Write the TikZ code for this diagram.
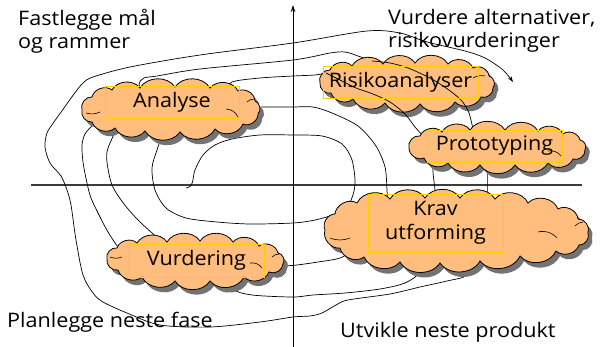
\documentclass[tikz,border=0pt]{standalone}
\usepackage{fontspec}
\setmainfont{Open Sans}[FakeStretch=1.08]
\usetikzlibrary{arrows.meta}
\definecolor{cloudfill}{RGB}{255,190,125}
\definecolor{boxyellow}{RGB}{255,204,0}
\definecolor{axisgray}{RGB}{60,60,60}
\definecolor{shadowgray}{RGB}{115,115,115}
\def\cloudAnalyse{(82,110) to[bump] (92,97) to[bump] (112,90) to[bump] (140,88) to[bump] (175,87) to[bump] (210,88) to[bump] (238,91) to[bump] (255,101) to[bump] (258,114) to[bump] (243,124) to[bump] (215,129) to[bump] (180,132) to[bump] (145,131) to[bump] (115,128) to[bump] (92,122) to[bump] (82,110) -- cycle}
\def\cloudRisiko{(320,83) to[bump] (330,70) to[bump] (352,66) to[bump] (383,64) to[bump] (415,63) to[bump] (448,64) to[bump] (473,68) to[bump] (489,76) to[bump] (493,88) to[bump] (481,97) to[bump] (455,102) to[bump] (420,104) to[bump] (385,103) to[bump] (353,99) to[bump] (331,93) to[bump] (320,83) -- cycle}
\def\cloudProto{(409,148) to[bump] (420,136) to[bump] (442,132) to[bump] (470,130) to[bump] (505,130) to[bump] (538,131) to[bump] (563,134) to[bump] (580,140) to[bump] (585,150) to[bump] (573,159) to[bump] (548,163) to[bump] (515,165) to[bump] (480,165) to[bump] (448,163) to[bump] (424,158) to[bump] (409,148) -- cycle}
\def\cloudKrav{(325,230) to[bump] (335,214) to[bump] (357,203) to[bump] (390,199) to[bump] (425,198) to[bump] (460,198) to[bump] (495,199) to[bump] (528,203) to[bump] (558,209) to[bump] (578,219) to[bump] (588,233) to[bump] (579,245) to[bump] (556,251) to[bump] (520,256) to[bump] (480,261) to[bump] (440,263) to[bump] (400,262) to[bump] (364,257) to[bump] (340,248) to[bump] (325,230) -- cycle}
\def\cloudVurd{(107,259) to[bump] (117,248) to[bump] (137,243) to[bump] (167,242) to[bump] (200,241) to[bump] (233,242) to[bump] (259,246) to[bump] (278,253) to[bump] (283,264) to[bump] (269,272) to[bump] (244,277) to[bump] (210,281) to[bump] (175,281) to[bump] (142,277) to[bump] (118,270) to[bump] (107,259) -- cycle}
\begin{document}
\begin{tikzpicture}[x=1pt,y=-1pt,
  bump/.style={bend left=58},
  spiral/.style={line width=0.7pt, black},
  cloudline/.style={draw=black, line width=0.8pt, fill=cloudfill},
  cloudshadow/.style={fill=shadowgray, shift={(4,5)}},
  puffline/.style={line width=0.6pt, black},
  labelbox/.style={draw=boxyellow, line width=0.7pt, inner sep=0pt, align=center,
    font=\fontsize{20}{24}\selectfont},
  plaintext/.style={anchor=base west, inner sep=0pt, font=\fontsize{20}{24}\selectfont}]
\useasboundingbox (0,0) rectangle (610,347);
\fill[white] (0,0) rectangle (610,347);

% axes
\draw[line width=1.3pt, axisgray] (31,185) -- (582,185);
\draw[line width=0.9pt, -{Stealth[length=7pt,width=4.5pt]}] (293,347) -- (293,5);

% spiral segments behind the clouds
\draw[spiral] plot[smooth, tension=0.5] coordinates {(186,188) (190,186.5) (192.5,182) (195,170) (203,155) (215,145) (232,139) (260,135) (293,135) (322,136) (342,144) (352,160) (355,185) (349,204) (335,214) (315,220) (293,223) (250,224) (217,222) (186,218) (166,208) (155,190) (152,168) (157,150) (166,124)};
\draw[spiral] plot[smooth, tension=0.5] coordinates {(245,108) (265,107) (293,107) (313,107) (332,113) (358,126) (376,146) (385,167) (387,190) (388,210)};
\draw[spiral] plot[smooth, tension=0.5] coordinates {(358,248) (340,258) (318,262) (297,265) (283,266) (272,266)};
\draw[spiral] plot[smooth, tension=0.5] coordinates {(168,248) (160,240) (140,222) (124,204) (112,185) (107,162) (108,148) (120,122)};
\draw[spiral] plot[smooth, tension=0.5] coordinates {(225,92) (232,82) (260,78) (293,76) (315,75) (326,73)};
\draw[spiral] plot[smooth, tension=0.5] coordinates {(433,154) (433,172) (435,190) (436,208)};
\draw[spiral] plot[smooth, tension=0.5] coordinates {(421,256) (420,272) (405,283) (380,289) (345,293) (313,295) (293,297) (252,295) (232,289) (225,275)};
\draw[spiral] plot[smooth, tension=0.5] coordinates {(126,254) (118,247) (108,232) (100,217) (91,198) (87,183) (83,162) (82,145) (85,134) (92,126) (100,120)};
\draw[spiral] plot[smooth, tension=0.5] coordinates {(143,94) (139,84) (144,78) (157,76) (200,69) (293,60) (330,53) (345,52) (358,56) (372,61)};
\draw[spiral] plot[smooth, tension=0.5] coordinates {(487,158) (487,172) (487,188) (487,206)};
\draw[spiral, -{Stealth[length=6pt,width=4pt]}] plot[smooth, tension=0.5] coordinates {(471,256) (467,275) (447,281) (420,287) (390,294) (348,300) (336,305) (322,313) (310,316) (293,317) (260,322) (210,327) (160,325) (127,313) (103,302) (93,293) (83,275) (76,240) (71,205) (67,190) (61,176) (50,163) (45,147) (47,133) (54,122) (64,108) (74,94) (83,83) (93,77) (130,67) (200,55) (293,43) (367,31) (400,33) (427,42) (465,51) (485,58) (503,70) (513,82)};

% clouds: Analyse, Vurdering, Krav utforming, Risikoanalyser
\fill[cloudshadow] \cloudAnalyse;
\draw[cloudline] \cloudAnalyse;
\fill[cloudshadow] \cloudVurd;
\draw[cloudline] \cloudVurd;
\fill[cloudshadow] \cloudKrav;
\draw[cloudline] \cloudKrav;
\fill[cloudshadow] \cloudRisiko;
\draw[cloudline] \cloudRisiko;

% spiral parts drawn over the Risikoanalyser cloud
\draw[spiral] plot[smooth, tension=0.5] coordinates {(326,73) (340,80) (356,88) (373,94) (390,102) (405,114) (415,127) (425,138)};
\draw[spiral] plot[smooth, tension=0.5] coordinates {(372,61) (390,63) (408,68) (430,78) (446,88) (461,100) (469,113) (474,134)};

% Prototyping cloud
\fill[cloudshadow] \cloudProto;
\draw[cloudline] \cloudProto;

% inner puff strokes
\draw[puffline] (86,113) to[bend right=20] (100,112);
\draw[puffline] (226,109) to[bend left=30] (238,117);
\draw[puffline] (247,102) to[bend left=20] (254,99);
\draw[puffline] (110,257) to[bend right=20] (122,257);
\draw[puffline] (250,263) to[bend left=30] (262,268);
\draw[puffline] (272,257) to[bend left=20] (279,254);
\draw[puffline] (330,238) to[bend right=20] (350,238);
\draw[puffline] (538,232) to[bend left=30] (557,238);
\draw[puffline] (575,226) to[bend left=20] (583,222);
\draw[puffline] (548,151) to[bend left=30] (561,156);
\draw[puffline] (473,78) to[bend left=20] (485,76);

% label boxes
\node[labelbox, minimum width=134pt, minimum height=32pt] (lanalyse) at (172,102) {Analyse};
\node[labelbox, minimum width=155pt, minimum height=32pt] (lrisiko) at (400.5,82) {Risikoanalyser};
\node[labelbox, minimum width=135pt, minimum height=32pt] (lproto) at (494.5,146) {Prototyping};
\node[labelbox, minimum width=135pt, minimum height=58pt] (lkrav) at (435.5,223) {Krav\\utforming};
\node[labelbox, minimum width=135pt, minimum height=33pt] (lvurd) at (196.5,260.5) {Vurdering};

% quadrant texts
\node[plaintext] (tq1a) at (18,26) {Fastlegge mål};
\node[plaintext] (tq1b) at (18,49) {og rammer};
\node[plaintext] (tq2a) at (388,25) {Vurdere alternativer,};
\node[plaintext] (tq2b) at (388,48) {risikovurderinger};
\node[plaintext] (tq3) at (7,327) {Planlegge neste fase};
\node[plaintext] (tq4) at (340,337) {Utvikle neste produkt};
\end{tikzpicture}
\end{document}
